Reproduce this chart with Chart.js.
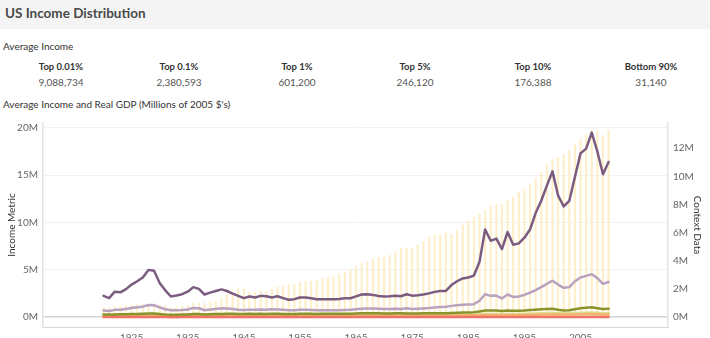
<!DOCTYPE html>
<html>
<head>
<meta charset="utf-8">
<script src="https://cdn.jsdelivr.net/npm/chart.js@4.4.0/dist/chart.umd.min.js"></script>
<style>
  html, body { margin: 0; padding: 0; width: 710px; height: 338px; overflow: hidden; background: #fff; font-family: Lato, sans-serif; }
  .header { position: absolute; left: 0; top: 0; width: 710px; height: 29px; background: #f4f4f4; }
  .header h1 { position: absolute; left: 5px; top: 5px; margin: 0; font-size: 13.5px; line-height: 17px; font-weight: bold; color: #4a4a4a; }
  .section { position: absolute; left: 3px; font-size: 10px; line-height: 13px; color: #333; }
  .kpi { position: absolute; width: 118px; text-align: center; }
  .kpi .name { font-size: 9.5px; line-height: 12px; font-weight: bold; color: #333; }
  .kpi .value { margin-top: 3px; font-size: 10px; line-height: 12px; color: #555; }
  .chart-box { position: absolute; left: 0; top: 112px; width: 710px; height: 240px; }
</style>
</head>
<body>
<div class="header"><h1>US Income Distribution</h1></div>
<div class="section" style="top:40px">Average Income</div>
<div id="kpis"></div>
<div class="section" style="top:98px">Average Income and Real GDP (Millions of 2005 $'s)</div>
<div class="chart-box"><canvas id="chart" width="710" height="240"></canvas></div>

<script>
// headline averages
const kpiNames = ['Top 0.01%', 'Top 0.1%', 'Top 1%', 'Top 5%', 'Top 10%', 'Bottom 90%'];
const kpiValues = ['9,088,734', '2,380,593', '601,200', '246,120', '176,388', '31,140'];

const years = [
  1920, 1921, 1922, 1923, 1924, 1925, 1926, 1927, 1928, 1929,
  1930, 1931, 1932, 1933, 1934, 1935, 1936, 1937, 1938, 1939,
  1940, 1941, 1942, 1943, 1944, 1945, 1946, 1947, 1948, 1949,
  1950, 1951, 1952, 1953, 1954, 1955, 1956, 1957, 1958, 1959,
  1960, 1961, 1962, 1963, 1964, 1965, 1966, 1967, 1968, 1969,
  1970, 1971, 1972, 1973, 1974, 1975, 1976, 1977, 1978, 1979,
  1980, 1981, 1982, 1983, 1984, 1985, 1986, 1987, 1988, 1989,
  1990, 1991, 1992, 1993, 1994, 1995, 1996, 1997, 1998, 1999,
  2000, 2001, 2002, 2003, 2004, 2005, 2006, 2007, 2008, 2009,
  2010
];

// average income per group, millions of 2005 $
const top001 = [
  2.26, 2.02, 2.7, 2.63, 2.97, 3.45, 3.8, 4.2, 5.0, 4.9,
  3.62, 2.84, 2.19, 2.29, 2.43, 2.7, 3.18, 3.0, 2.4, 2.6,
  2.77, 2.94, 2.77, 2.5, 2.26, 2.02, 2.19, 2.09, 2.26, 2.22,
  2.09, 2.22, 2.02, 1.85, 1.91, 2.09, 2.09, 2.0, 1.91, 1.91,
  1.91, 1.91, 1.93, 2.0, 2.0, 2.2, 2.4, 2.43, 2.36, 2.25,
  2.18, 2.22, 2.28, 2.22, 2.43, 2.28, 2.32, 2.4, 2.52, 2.68,
  2.78, 2.78, 3.4, 3.8, 4.1, 4.2, 4.4, 5.85, 9.26, 8.07,
  8.3, 7.2, 9.0, 7.66, 7.8, 8.4, 9.26, 11.0, 12.3, 13.9,
  15.4, 12.85, 11.7, 12.3, 14.8, 17.3, 17.8, 19.5, 17.5, 15.1,
  16.4
];
const top01 = [
  0.72, 0.65, 0.78, 0.8, 0.88, 0.97, 1.05, 1.12, 1.3, 1.27,
  1.05, 0.84, 0.74, 0.73, 0.76, 0.82, 0.97, 0.95, 0.74, 0.82,
  0.88, 0.95, 0.92, 0.86, 0.8, 0.76, 0.8, 0.78, 0.82, 0.8,
  0.84, 0.82, 0.78, 0.74, 0.75, 0.78, 0.78, 0.76, 0.74, 0.75,
  0.74, 0.74, 0.75, 0.76, 0.78, 0.84, 0.9, 0.92, 0.92, 0.9,
  0.86, 0.86, 0.9, 0.88, 0.95, 0.88, 0.9, 0.93, 0.97, 1.03,
  1.08, 1.1, 1.2, 1.27, 1.32, 1.35, 1.38, 1.74, 2.43, 2.26,
  2.29, 1.98, 2.4, 2.15, 2.19, 2.36, 2.6, 2.87, 3.18, 3.52,
  3.86, 3.45, 3.11, 3.18, 3.8, 4.2, 4.37, 4.55, 4.13, 3.52,
  3.72
];
const top1 = [
  0.3, 0.28, 0.3, 0.31, 0.32, 0.34, 0.35, 0.37, 0.4, 0.39,
  0.35, 0.3, 0.27, 0.27, 0.28, 0.3, 0.33, 0.33, 0.3, 0.31,
  0.33, 0.35, 0.36, 0.36, 0.35, 0.35, 0.36, 0.35, 0.36, 0.35,
  0.37, 0.36, 0.35, 0.34, 0.35, 0.36, 0.37, 0.36, 0.35, 0.36,
  0.36, 0.36, 0.37, 0.37, 0.38, 0.4, 0.41, 0.41, 0.42, 0.41,
  0.39, 0.39, 0.41, 0.41, 0.4, 0.39, 0.4, 0.41, 0.42, 0.43,
  0.43, 0.43, 0.45, 0.48, 0.5, 0.51, 0.54, 0.6, 0.72, 0.7,
  0.7, 0.65, 0.71, 0.68, 0.68, 0.71, 0.76, 0.8, 0.84, 0.88,
  0.9, 0.8, 0.72, 0.74, 0.85, 0.95, 1.0, 1.06, 0.96, 0.86,
  0.89
];
const top5 = [
  0.14, 0.13, 0.14, 0.15, 0.15, 0.16, 0.16, 0.17, 0.18, 0.18,
  0.16, 0.14, 0.13, 0.13, 0.13, 0.14, 0.15, 0.15, 0.14, 0.15,
  0.16, 0.17, 0.18, 0.18, 0.18, 0.18, 0.18, 0.17, 0.18, 0.18,
  0.19, 0.19, 0.19, 0.19, 0.19, 0.2, 0.2, 0.2, 0.2, 0.2,
  0.2, 0.21, 0.21, 0.21, 0.22, 0.23, 0.23, 0.24, 0.24, 0.24,
  0.23, 0.23, 0.24, 0.24, 0.23, 0.23, 0.24, 0.24, 0.25, 0.25,
  0.25, 0.25, 0.25, 0.26, 0.27, 0.28, 0.29, 0.31, 0.34, 0.34,
  0.34, 0.33, 0.35, 0.35, 0.35, 0.36, 0.38, 0.4, 0.42, 0.44,
  0.46, 0.43, 0.41, 0.42, 0.45, 0.47, 0.48, 0.5, 0.47, 0.43,
  0.44
];
const top10 = [
  0.1, 0.09, 0.1, 0.1, 0.1, 0.11, 0.11, 0.11, 0.12, 0.12,
  0.11, 0.1, 0.09, 0.09, 0.09, 0.1, 0.1, 0.11, 0.1, 0.1,
  0.11, 0.12, 0.13, 0.13, 0.13, 0.13, 0.13, 0.13, 0.13, 0.13,
  0.14, 0.14, 0.14, 0.14, 0.14, 0.15, 0.15, 0.15, 0.15, 0.15,
  0.15, 0.16, 0.16, 0.16, 0.17, 0.17, 0.17, 0.18, 0.18, 0.18,
  0.18, 0.18, 0.18, 0.18, 0.18, 0.18, 0.18, 0.18, 0.19, 0.19,
  0.19, 0.19, 0.19, 0.19, 0.2, 0.2, 0.21, 0.22, 0.24, 0.24,
  0.24, 0.23, 0.24, 0.24, 0.24, 0.25, 0.26, 0.27, 0.28, 0.3,
  0.31, 0.29, 0.28, 0.28, 0.3, 0.31, 0.32, 0.33, 0.31, 0.29,
  0.29
];
const bottom90 = [
  0.014, 0.013, 0.014, 0.015, 0.015, 0.015, 0.016, 0.016, 0.016, 0.016,
  0.015, 0.014, 0.012, 0.012, 0.013, 0.013, 0.014, 0.015, 0.014, 0.015,
  0.016, 0.018, 0.02, 0.023, 0.024, 0.024, 0.022, 0.021, 0.021, 0.021,
  0.022, 0.023, 0.024, 0.025, 0.025, 0.026, 0.027, 0.027, 0.027, 0.028,
  0.028, 0.029, 0.03, 0.03, 0.031, 0.032, 0.033, 0.033, 0.034, 0.034,
  0.034, 0.034, 0.035, 0.035, 0.034, 0.033, 0.034, 0.034, 0.035, 0.034,
  0.033, 0.032, 0.032, 0.032, 0.033, 0.033, 0.033, 0.033, 0.033, 0.033,
  0.033, 0.032, 0.032, 0.032, 0.032, 0.033, 0.033, 0.034, 0.035, 0.036,
  0.036, 0.035, 0.034, 0.033, 0.033, 0.033, 0.033, 0.033, 0.032, 0.031,
  0.031
];

// real GDP, millions of millions of 2005 $ (right axis)
const realGdp = [
  0.70, 0.68, 0.72, 0.81, 0.83, 0.86, 0.91, 0.92, 0.94, 0.977,
  0.892, 0.834, 0.725, 0.716, 0.794, 0.865, 0.977, 1.027, 0.992, 1.072,
  1.167, 1.366, 1.618, 1.883, 2.035, 2.012, 1.792, 1.776, 1.854, 1.844,
  2.006, 2.161, 2.243, 2.347, 2.332, 2.5, 2.55, 2.601, 2.578, 2.763,
  2.831, 2.897, 3.072, 3.206, 3.392, 3.61, 3.845, 3.943, 4.133, 4.261,
  4.27, 4.413, 4.648, 4.917, 4.89, 4.88, 5.141, 5.378, 5.677, 5.855,
  5.839, 5.987, 5.871, 6.136, 6.577, 6.849, 7.087, 7.313, 7.614, 7.886,
  8.034, 8.015, 8.287, 8.523, 8.871, 9.094, 9.434, 9.854, 10.284, 10.78,
  11.226, 11.347, 11.553, 11.841, 12.264, 12.638, 12.976, 13.229, 13.229, 12.881,
  13.248
];

const yearTicks = [1925, 1935, 1945, 1955, 1965, 1975, 1985, 1995, 2005];
const incomeTicks = [0, 5, 10, 15, 20];
const contextTicks = [0, 2, 4, 6, 8, 10, 12];

// KPI strip
const kpiBox = document.getElementById('kpis');
kpiNames.forEach((name, i) => {
  const el = document.createElement('div');
  el.className = 'kpi';
  el.style.left = (2 + i * 118) + 'px';
  el.style.top = '61px';
  el.innerHTML = '<div class="name">' + name + '</div><div class="value">' + kpiValues[i] + '</div>';
  kpiBox.appendChild(el);
});

const points = arr => years.map((yr, i) => ({ x: yr, y: arr[i] }));

const lineSet = (label, arr, color, order) => ({
  type: 'line',
  label: label,
  data: points(arr),
  yAxisID: 'y',
  borderColor: color,
  borderWidth: 2.5,
  borderJoinStyle: 'round',
  borderCapStyle: 'round',
  pointRadius: 0,
  fill: false,
  tension: 0,
  order: order
});

const tickFont = { family: 'Lato', size: 10 };
const titleFont = { family: 'Lato', size: 10 };

new Chart(document.getElementById('chart'), {
  type: 'bar',
  data: {
    datasets: [
      lineSet('Top 0.01%', top001, '#7b5b80', 0),
      lineSet('Top 0.1%', top01, '#baa1be', 1),
      lineSet('Top 1%', top1, '#8a932b', 2),
      lineSet('Bottom 90%', bottom90, '#ef7467', 3),
      lineSet('Top 10%', top10, '#f2b36f', 4),
      lineSet('Top 5%', top5, '#dedb92', 5),
      {
        type: 'bar',
        label: 'Real GDP',
        data: points(realGdp),
        yAxisID: 'y1',
        backgroundColor: '#fcefc9',
        barThickness: 1.5,
        grouped: false,
        order: 10
      }
    ]
  },
  options: {
    responsive: false,
    animation: false,
    layout: { padding: { top: 5, left: 0, right: 0, bottom: 0 } },
    plugins: {
      legend: { display: false },
      tooltip: { enabled: false }
    },
    scales: {
      x: {
        type: 'linear',
        min: 1915.4,
        max: 2014.4,
        grid: { display: false, drawTicks: false },
        border: { display: true, color: '#d6d6d6', dash: [2, 2] },
        ticks: {
          font: tickFont,
          color: '#666',
          padding: 5,
          maxRotation: 0,
          autoSkip: false,
          callback: v => String(v)
        },
        afterBuildTicks: s => { s.ticks = yearTicks.map(v => ({ value: v })); },
        afterFit: s => { s.height = 25; }
      },
      y: {
        position: 'left',
        min: -1.03,
        max: 20.51,
        grid: {
          drawTicks: false,
          color: c => (c.tick && c.tick.value === 0 ? '#d4d4d4' : '#f1f1f1'),
          lineWidth: c => (c.tick && c.tick.value === 0 ? 1.5 : 1)
        },
        border: { display: true, color: '#e3e3e3', width: 1.5 },
        ticks: {
          font: tickFont,
          color: '#666',
          padding: 5,
          callback: v => v + 'M'
        },
        title: {
          display: true,
          text: 'Income Metric',
          font: titleFont,
          color: '#333',
          padding: { top: 6, bottom: 0 }
        },
        afterBuildTicks: s => { s.ticks = incomeTicks.map(v => ({ value: v })); },
        afterFit: s => { s.width = 43; }
      },
      y1: {
        position: 'right',
        min: -0.69,
        max: 13.79,
        grid: { display: false, drawTicks: false },
        border: { display: true, color: '#e3e3e3', width: 1.5 },
        ticks: {
          font: tickFont,
          color: '#666',
          padding: 5,
          callback: v => v + 'M'
        },
        title: {
          display: true,
          text: 'Context Data',
          font: titleFont,
          color: '#333',
          padding: { top: 7, bottom: 0 }
        },
        afterBuildTicks: s => { s.ticks = contextTicks.map(v => ({ value: v })); },
        afterFit: s => { s.width = 42; }
      }
    }
  }
});
</script>
</body>
</html>
